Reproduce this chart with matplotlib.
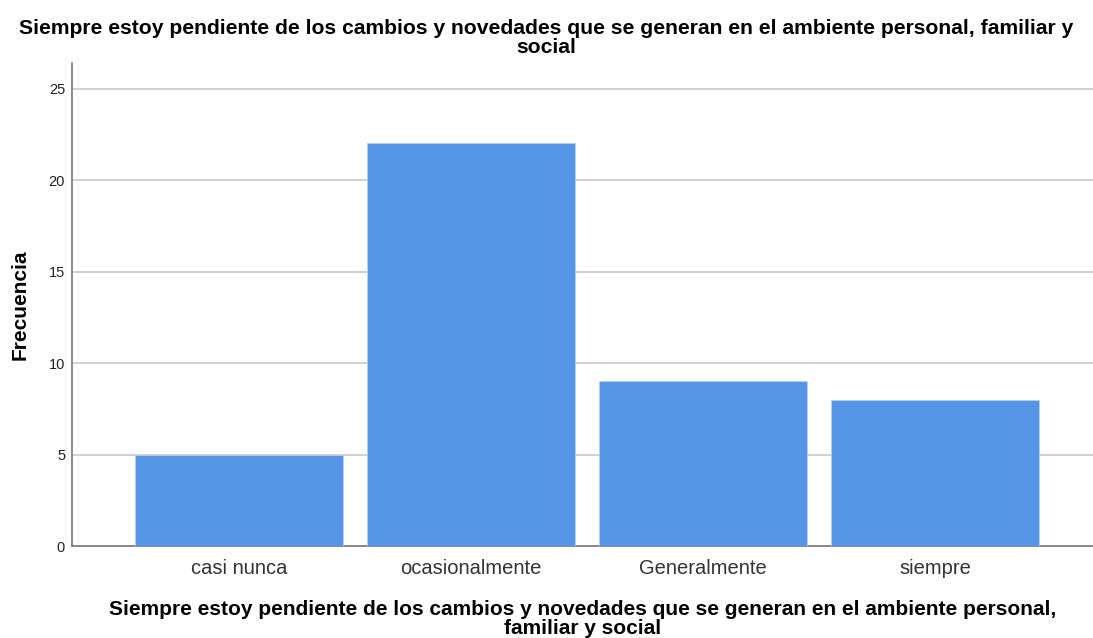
import matplotlib
matplotlib.use("Agg")
import matplotlib.pyplot as plt

categories = ["casi nunca", "ocasionalmente", "Generalmente", "siempre"]
counts = [5, 22, 9, 8]
yticks = [0, 5, 10, 15, 20, 25]
title = ("Siempre estoy pendiente de los cambios y novedades que se generan en el ambiente personal, familiar y\n"
         "social")
xlabel = ("Siempre estoy pendiente de los cambios y novedades que se generan en el ambiente personal,\n"
          "familiar y social")

plt.rcParams['font.family'] = ['Liberation Sans', 'DejaVu Sans']

fig = plt.figure(figsize=(10.93, 6.38), dpi=100)
ax = fig.add_axes([0.0659, 0.1442, 0.9341, 0.7571])

x = range(len(categories))
ax.bar(x, counts, width=0.897, color="#5596e5", edgecolor="#b8cfee", linewidth=0.6, zorder=3)

ax.set_xlim(-0.72, 3.68)
ax.set_ylim(0, 26.4)
ax.set_yticks(yticks)
ax.yaxis.grid(True, color="#c8c8c8", linewidth=1.2, zorder=0)
ax.set_xticks(list(x))
ax.set_xticklabels(categories, fontsize=14.5, color="#333333")
ax.tick_params(axis="x", length=0, pad=9)
ax.tick_params(axis="y", length=0, labelsize=10.5, pad=5, labelcolor="#222222")

for side in ["top", "right"]:
    ax.spines[side].set_visible(False)
for side in ["left", "bottom"]:
    ax.spines[side].set_color("#777777")
    ax.spines[side].set_linewidth(1.2)

ax.set_ylabel("Frecuencia", fontsize=15, fontweight="bold", labelpad=14)
ax.set_xlabel(xlabel, fontsize=15, fontweight="bold", labelpad=16, linespacing=1.0)
fig.text(0.5, 0.97, title, ha="center", va="top", fontsize=15.2, fontweight="bold", linespacing=1.0)

fig.savefig("out.png", dpi=100)
